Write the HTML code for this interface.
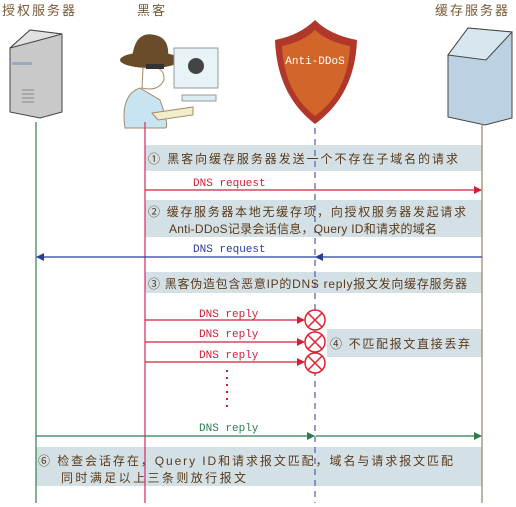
<!DOCTYPE html>
<html><head><meta charset="utf-8"><style>
body{margin:0;background:#fff;width:516px;height:507px;overflow:hidden}
svg{display:block}
text{font-family:"Liberation Sans","Noto Sans CJK SC",sans-serif}
.cn{fill:#5a3a1a;font-size:12px}
.hd{fill:#7a5a36;font-size:13px;letter-spacing:2px}
.lab{font-size:11px;font-family:"Liberation Mono",monospace}
</style></head><body>
<svg width="516" height="507" viewBox="0 0 516 507">
<defs>
<marker id="ar" markerWidth="8" markerHeight="8" refX="7" refY="4" orient="auto" markerUnits="userSpaceOnUse"><path d="M0,0 L8,4 L0,8z" fill="#d0203a"/></marker>
<marker id="ag" markerWidth="8" markerHeight="8" refX="7" refY="4" orient="auto" markerUnits="userSpaceOnUse"><path d="M0,0 L8,4 L0,8z" fill="#2e7d4f"/></marker>
<marker id="ab" markerWidth="8" markerHeight="8" refX="7" refY="4" orient="auto" markerUnits="userSpaceOnUse"><path d="M0,0 L8,4 L0,8z" fill="#2a3d9a"/></marker>
</defs>
<text x="2" y="15" class="hd">授权服务器</text>
<text x="137" y="15" class="hd">黑客</text>
<text x="435" y="15" class="hd">缓存服务器</text>
<!-- left server -->
<path d="M10,48 L30,30 L62,34 L62,112 L40,118 L10,112z" fill="#c9c9c9" stroke="#444"/>
<path d="M10,48 L30,30 L62,34 L40,40z" fill="#e2e2e2" stroke="#444"/>
<rect x="12" y="62" width="20" height="3" fill="#9ab"/>
<g stroke="#888"><line x1="22" y1="90" x2="34" y2="90"/><line x1="22" y1="94" x2="34" y2="94"/><line x1="22" y1="98" x2="34" y2="98"/><line x1="22" y1="102" x2="34" y2="102"/></g>
<!-- hacker -->
<path d="M125,128 Q120,95 140,88 L160,100 Q170,128 165,128z" fill="#c9e4f1" stroke="#a08a6a"/>
<path d="M152,113 L193,107 L193,115 L158,120z" fill="#f3ecc9" stroke="#a08a6a"/>
<ellipse cx="150" cy="60" rx="30" ry="8" fill="#6b4c2a"/>
<path d="M132,58 Q135,30 155,35 Q170,38 168,58z" fill="#6b4c2a"/>
<path d="M143,68 Q165,64 164,80 Q158,92 142,88z" fill="#fff" stroke="#a08a6a"/>
<rect x="146" y="64" width="18" height="5" fill="#333"/>
<rect x="174" y="48" width="44" height="40" fill="#e8f3f8" stroke="#999"/>
<rect x="182" y="95" width="34" height="6" fill="#dcecf4" stroke="#999"/>
<circle cx="196" cy="66" r="8" fill="#444"/>
<!-- shield -->
<path d="M275,40 Q300,35 315,20 Q330,35 357,40 Q355,95 315,124 Q277,95 275,40z" fill="#b0372a"/>
<path d="M282,46 Q302,42 315,30 Q328,42 350,46 Q348,92 315,116 Q284,92 282,46z" fill="#d2662a"/>
<text x="315" y="64" text-anchor="middle" fill="#fff" font-size="11" style="font-family:'Liberation Mono',monospace">Anti-DDoS</text>
<!-- right server -->
<path d="M448,55 L468,28 L512,32 L512,118 L485,125 L448,117z" fill="#bcd2e2" stroke="#444"/>
<path d="M448,55 L468,28 L512,32 L486,60z" fill="#d8e6ef" stroke="#444"/>
<!-- boxes -->
<rect x="145" y="145" width="337" height="26" fill="#d3e0e6"/>
<rect x="145" y="200" width="337" height="37" fill="#d3e0e6"/>
<rect x="145" y="272" width="337" height="21" fill="#d3e0e6"/>
<rect x="327" y="329" width="155" height="28" fill="#d3e0e6"/>
<rect x="36" y="447" width="446" height="39" fill="#d3e0e6"/>
<!-- lifelines -->
<line x1="36" y1="122" x2="36" y2="503" stroke="#3c8a5a" stroke-width="1.3"/>
<line x1="145" y1="122" x2="145" y2="503" stroke="#d23a6a" stroke-width="1.3"/>
<line x1="315" y1="128" x2="315" y2="503" stroke="#5a6ab0" stroke-width="1.3" stroke-dasharray="6,5"/>
<line x1="482" y1="124" x2="482" y2="503" stroke="#a08a6a" stroke-width="1.3"/>
<!-- texts -->
<text x="148" y="163" class="cn" textLength="310" lengthAdjust="spacing">① 黑客向缓存服务器发送一个不存在子域名的请求</text>
<text x="148" y="216" class="cn" textLength="318" lengthAdjust="spacing">② 缓存服务器本地无缓存项，向授权服务器发起请求</text>
<text x="169" y="233" class="cn" textLength="268" lengthAdjust="spacing">Anti-DDoS记录会话信息，Query ID和请求的域名</text>
<text x="148" y="288" class="cn" textLength="319" lengthAdjust="spacing">③ 黑客伪造包含恶意IP的DNS reply报文发向缓存服务器</text>
<text x="330" y="348" class="cn" textLength="140" lengthAdjust="spacing">④ 不匹配报文直接丢弃</text>
<text x="38" y="465" class="cn" textLength="415" lengthAdjust="spacing">⑥ 检查会话存在，Query ID和请求报文匹配，域名与请求报文匹配</text>
<text x="61" y="482" class="cn" textLength="185" lengthAdjust="spacing">同时满足以上三条则放行报文</text>
<!-- arrows -->
<text x="193" y="186" class="lab" fill="#d0203a">DNS request</text>
<line x1="145" y1="190" x2="481" y2="190" stroke="#d0203a" stroke-width="1.3" marker-end="url(#ar)"/>
<text x="193" y="252" class="lab" fill="#2a3d9a">DNS request</text>
<line x1="482" y1="257" x2="316" y2="257" stroke="#2a3d9a" stroke-width="1.3" marker-end="url(#ab)"/>
<line x1="316" y1="257" x2="37" y2="257" stroke="#2a3d9a" stroke-width="1.3" marker-end="url(#ab)"/>
<text x="199" y="317" class="lab" fill="#d0203a">DNS reply</text>
<text x="199" y="337" class="lab" fill="#d0203a">DNS reply</text>
<text x="199" y="358" class="lab" fill="#d0203a">DNS reply</text>
<g stroke="#d0203a" stroke-width="1.3">
<line x1="145" y1="320" x2="304" y2="320" marker-end="url(#ar)"/>
<line x1="145" y1="342" x2="304" y2="342" marker-end="url(#ar)"/>
<line x1="145" y1="362" x2="304" y2="362" marker-end="url(#ar)"/>
</g>
<g fill="#fff" stroke="#e02030" stroke-width="1.5">
<circle cx="315" cy="320" r="10"/><path d="M308,313 L322,327 M322,313 L308,327"/>
<circle cx="315" cy="342" r="10"/><path d="M308,335 L322,349 M322,335 L308,349"/>
<circle cx="315" cy="363" r="10"/><path d="M308,356 L322,370 M322,356 L308,370"/>
</g>
<line x1="227" y1="370" x2="227" y2="408" stroke="#d0203a" stroke-width="2" stroke-dasharray="2,5"/>
<text x="199" y="431" class="lab" fill="#2e7d4f">DNS reply</text>
<line x1="36" y1="436" x2="314" y2="436" stroke="#2e7d4f" stroke-width="1.3" marker-end="url(#ag)"/>
<line x1="316" y1="436" x2="481" y2="436" stroke="#2e7d4f" stroke-width="1.3" marker-end="url(#ag)"/>
</svg>
</body></html>
